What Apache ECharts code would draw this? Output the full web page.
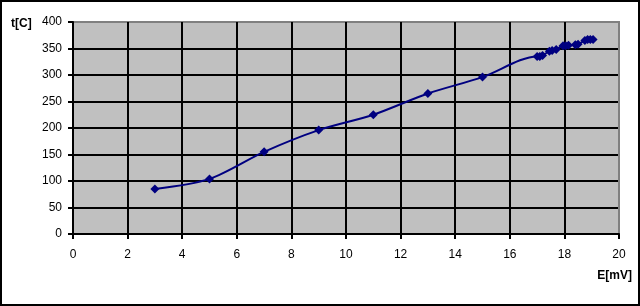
<!DOCTYPE html>
<html><head><meta charset="utf-8">
<script src="https://cdn.jsdelivr.net/npm/echarts@6/dist/echarts.min.js"></script>
<style>html,body{margin:0;padding:0;background:#fff}#c{width:640px;height:306px}</style>
</head><body><div id="c"></div>
<script>
const xValues = [3, 5, 7, 9, 11, 13, 15, 17.0, 17.1, 17.2, 17.45, 17.55, 17.7, 17.95, 18.05, 18.15, 18.4, 18.5, 18.75, 18.85, 18.95, 19.05];
const yValues = [85, 104, 155, 196, 225, 265, 296, 335, 335, 337, 345, 346, 348, 355, 355, 356, 357, 358, 365, 367, 367, 367];
const xTitle = 'E[mV]';
const yTitle = 't[C]';

const data = xValues.map((x, i) => [x, yValues[i]]);
const chart = echarts.init(document.getElementById('c'), null, {renderer: 'canvas'});
const font = 'Liberation Sans, Arial, sans-serif';
chart.setOption({
  animation: false,
  backgroundColor: '#fff',
  grid: {left: 73, right: 21, top: 22, bottom: 72, show: true, backgroundColor: '#C0C0C0', borderColor: '#808080', borderWidth: 2},
  xAxis: {
    type: 'value', min: 0, max: 20, interval: 2,
    axisLine: {show: true, lineStyle: {color: '#000', width: 2}},
    axisTick: {show: true, length: 5, lineStyle: {color: '#000', width: 2}},
    axisLabel: {color: '#000', fontSize: 12, fontFamily: font, margin: 15},
    splitLine: {show: true, lineStyle: {color: ['#000','#000','#000','#000','#000','#000','#000','#000','#000','#000','#808080'], width: 2}}
  },
  yAxis: {
    type: 'value', min: 0, max: 400, interval: 50,
    axisLine: {show: true, lineStyle: {color: '#000', width: 2}},
    axisTick: {show: true, length: 5, lineStyle: {color: '#000', width: 2}},
    axisLabel: {color: '#000', fontSize: 12, fontFamily: font, margin: 11},
    splitLine: {show: true, lineStyle: {color: ['#000','#000','#000','#000','#000','#000','#000','#000','#808080'], width: 2}}
  },
  series: [{
    type: 'line', data: data, smooth: 0.3,
    symbol: 'diamond', symbolSize: 9, showSymbol: true,
    lineStyle: {color: '#000080', width: 2},
    itemStyle: {color: '#000080', borderWidth: 0}
  }],
  graphic: [
    {type: 'text', left: 11, top: 18, style: {text: yTitle, font: 'bold 12px ' + font, fill: '#000'}},
    {type: 'text', right: 8, top: 270, style: {text: xTitle, font: 'bold 12px ' + font, fill: '#000'}},
    {type: 'rect', shape: {x: 1, y: 1, width: 638, height: 304}, style: {fill: 'none', stroke: '#000', lineWidth: 2}, silent: true}
  ]
});
</script></body></html>
